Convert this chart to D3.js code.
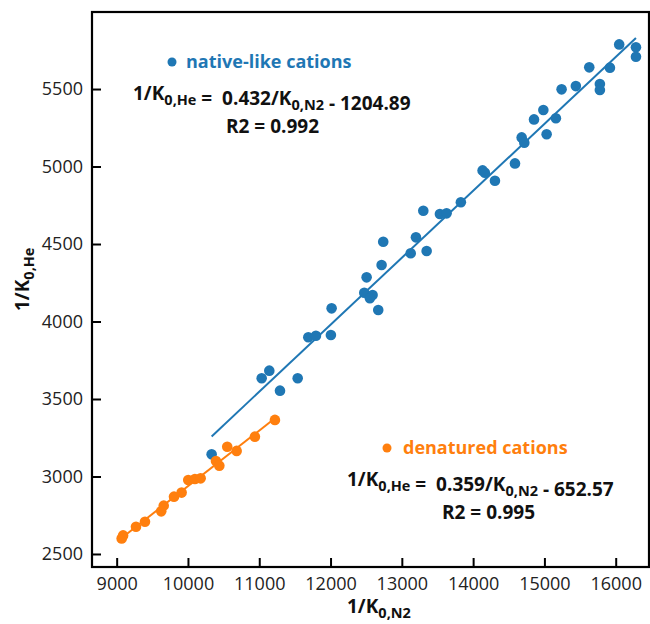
<!DOCTYPE html>
<html><head><meta charset="utf-8">
<script src="https://cdn.jsdelivr.net/npm/d3@7"></script>
<style>body{margin:0;background:#fff}svg{display:block}</style>
</head><body><svg id="c" width="650" height="624"></svg>
<script>
const blueX=[10332,11034,11141,11291,11539,11688,11795,12005,12015,12506,12473,12590,12552,12669,12716,12739,13124,13198,13348,13301,13534,13628,13828,14133,14165,14306,14587,14681,14718,14854,14985,15031,15161,15241,15441,15629,15778,15778,15919,16049,16284,16284];
const blueY=[3143,3634,3683,3554,3634,3898,3908,3913,4085,4285,4186,4171,4150,4074,4365,4515,4440,4543,4455,4715,4694,4698,4769,4975,4960,4908,5020,5188,5154,5304,5365,5208,5311,5498,5519,5640,5532,5494,5638,5788,5769,5708];
const orangeX=[9070,9090,9271,9397,9625,9660,9804,9911,10004,10098,10178,10393,10440,10551,10683,10939,11220];
const orangeY=[2600,2620,2676,2708,2775,2812,2870,2896,2977,2984,2988,3100,3070,3192,3165,3257,3365];
const xTicks=[9000,10000,11000,12000,13000,14000,15000,16000];
const yTicks=[2500,3000,3500,4000,4500,5000,5500];
const blueFit=[0.432,-1204.89];
const orangeFit=[0.359,-652.57];
const BLUE="#1f77b4", ORANGE="#ff7f0e";

const svg=d3.select("#c");
const L=92,R=649,T=12,B=567;
const x=d3.scaleLinear().domain([8654,16467]).range([L,R]);
const y=d3.scaleLinear().domain([2416,5997]).range([B,T]);
const font="'Open Sans', sans-serif";

function fitLine(xs,fit,color){
  const x0=d3.min(xs),x1=d3.max(xs);
  svg.append("line").attr("x1",x(x0)).attr("x2",x(x1))
    .attr("y1",y(fit[0]*x0+fit[1])).attr("y2",y(fit[0]*x1+fit[1]))
    .attr("stroke",color).attr("stroke-width",2);
}
fitLine(blueX,blueFit,BLUE);
fitLine(orangeX,orangeFit,ORANGE);

svg.append("g").selectAll("circle").data(blueX).join("circle")
  .attr("cx",d=>x(d)).attr("cy",(d,i)=>y(blueY[i])).attr("r",5.3).attr("fill",BLUE);
svg.append("g").selectAll("circle").data(orangeX).join("circle")
  .attr("cx",d=>x(d)).attr("cy",(d,i)=>y(orangeY[i])).attr("r",5.3).attr("fill",ORANGE);

const xa=svg.append("g").attr("transform",`translate(0,${B})`)
  .call(d3.axisBottom(x).tickValues(xTicks).tickSizeInner(-9).tickSizeOuter(0).tickPadding(10).tickFormat(d3.format("d")));
const ya=svg.append("g").attr("transform",`translate(${L},0)`)
  .call(d3.axisLeft(y).tickValues(yTicks).tickSizeInner(-9).tickSizeOuter(0).tickPadding(9).tickFormat(d3.format("d")));
[xa,ya].forEach(a=>{
  a.select(".domain").remove();
  a.selectAll(".tick line").attr("stroke","#000").attr("stroke-width",2);
  a.selectAll(".tick text").attr("font-family",font).attr("font-size",18).attr("fill","#222");
});
svg.append("rect").attr("x",L).attr("y",T).attr("width",R-L).attr("height",B-T)
  .attr("fill","none").attr("stroke","#000").attr("stroke-width",2.2);

function eq(xp,yp,parts,anchor){
  const t=svg.append("text").attr("x",xp).attr("y",yp).attr("font-family",font)
    .attr("font-weight","bold").attr("font-size",19).attr("fill","#111")
    .attr("text-anchor",anchor||"start").style("white-space","pre");
  parts.forEach(p=>{
    if(p.sub){t.append("tspan").attr("font-size",14.5).attr("dy",5).text(p.sub);
      t.append("tspan").attr("dy",-5).text("");}
    else t.append("tspan").text(p.t);
  });
  return t;
}
svg.append("circle").attr("cx",172).attr("cy",62).attr("r",4.5).attr("fill",BLUE);
svg.append("text").attr("x",186).attr("y",68).attr("font-family",font).attr("font-weight","bold")
  .attr("font-size",18).attr("fill",BLUE).text("native-like cations");
eq(133,100,[{t:"1/K"},{sub:"0,He"},{t:" =\u00a0 0.432/K"},{sub:"0,N2"},{t:" - 1204.89"}]);
eq(226,133,[{t:"R2 = 0.992"}]);
svg.append("circle").attr("cx",387).attr("cy",448).attr("r",4.5).attr("fill",ORANGE);
svg.append("text").attr("x",403).attr("y",454).attr("font-family",font).attr("font-weight","bold")
  .attr("font-size",18).attr("fill",ORANGE).text("denatured cations");
eq(347,486,[{t:"1/K"},{sub:"0,He"},{t:" =\u00a0 0.359/K"},{sub:"0,N2"},{t:" - 652.57"}]);
eq(442,519,[{t:"R2 = 0.995"}]);
eq(347,613,[{t:"1/K"},{sub:"0,N2"}]);
const yt=eq(0,0,[{t:"1/K"},{sub:"0,He"}]);
yt.attr("transform","translate(29,311) rotate(-90)");
</script></body></html>
